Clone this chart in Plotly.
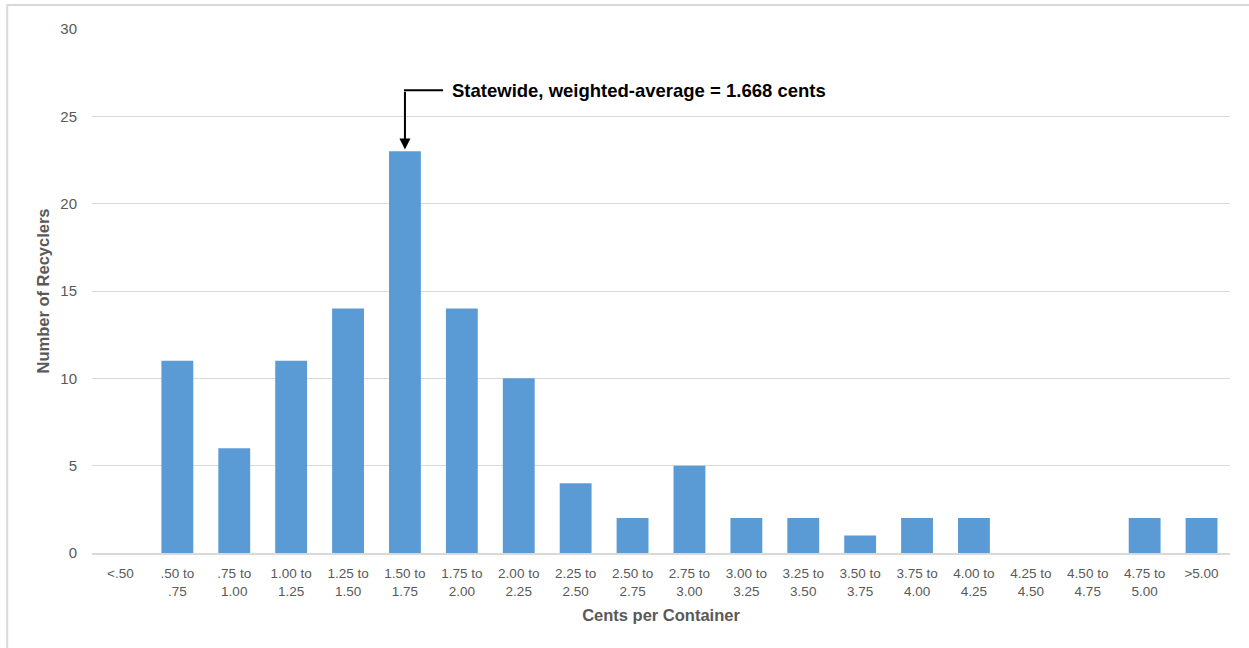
import plotly.graph_objects as go

# Price ranges (cents per container) and recycler counts
categories = ["<.50", ".50 to<br>.75", ".75 to<br>1.00", "1.00 to<br>1.25", "1.25 to<br>1.50",
              "1.50 to<br>1.75", "1.75 to<br>2.00", "2.00 to<br>2.25", "2.25 to<br>2.50",
              "2.50 to<br>2.75", "2.75 to<br>3.00", "3.00 to<br>3.25", "3.25 to<br>3.50",
              "3.50 to<br>3.75", "3.75 to<br>4.00", "4.00 to<br>4.25", "4.25 to<br>4.50",
              "4.50 to<br>4.75", "4.75 to<br>5.00", ">5.00"]
recyclers = [0, 11, 6, 11, 14, 23, 14, 10, 4, 2, 5, 2, 2, 1, 2, 2, 0, 0, 2, 2]

avg_label = "Statewide, weighted-average = 1.668 cents"
avg_bin = 5  # index of the 1.50 to 1.75 range

y_ticks = [0, 5, 10, 15, 20, 25, 30]

FONT = "Liberation Sans, Arial, sans-serif"
GREY = "#595959"

x_idx = list(range(len(categories)))

fig = go.Figure()
fig.add_trace(go.Bar(
    x=x_idx, y=recyclers,
    marker=dict(color="#5B9BD5", line=dict(width=0)),
    width=0.56,
    hoverinfo="y",
))

# Arrow pointing at the bin containing the weighted average
fig.add_annotation(
    x=avg_bin, y=23.1, ax=avg_bin, ay=26.5,
    xref="x", yref="y", axref="x", ayref="y",
    text="", showarrow=True, arrowhead=2, arrowsize=1.1, arrowwidth=2, arrowcolor="black",
)
fig.add_shape(type="line", xref="x", yref="y",
              x0=avg_bin - 0.018, x1=avg_bin + 0.67, y0=26.5, y1=26.5,
              line=dict(color="black", width=2))
fig.add_annotation(
    x=avg_bin + 0.8, y=26.5, xref="x", yref="y",
    text="<b>" + avg_label + "</b>", showarrow=False,
    xanchor="left", yanchor="middle",
    font=dict(family=FONT, size=18.5, color="black"),
)

# Outer chart frame
fig.add_shape(type="rect", xref="paper", yref="paper",
              x0=-0.0745, x1=1.2, y0=-0.3, y1=1.0458,
              line=dict(color="#d9d9d9", width=2), fillcolor="rgba(0,0,0,0)", layer="below")

fig.update_layout(
    width=1249, height=648,
    margin=dict(l=92, r=19, t=29, b=95),
    paper_bgcolor="white", plot_bgcolor="white",
    showlegend=False,
    font=dict(family=FONT, color=GREY),
    xaxis=dict(
        tickmode="array", tickvals=x_idx, ticktext=categories,
        range=[-0.5, len(categories) - 0.5],
        showgrid=False, zeroline=False,
        showline=True, linecolor="#d9d9d9", linewidth=1.5,
        ticks="", ticklabelstandoff=7, tickfont=dict(size=13.5, color=GREY),
        title=dict(text="<b>Cents per Container</b>", font=dict(size=16.5, color=GREY), standoff=12),
    ),
    yaxis=dict(
        range=[0, 30], tickvals=y_ticks,
        showgrid=True, gridcolor="#d9d9d9", gridwidth=1.3,
        zeroline=False, showline=False,
        ticks="", ticklabelstandoff=14, tickfont=dict(size=15, color=GREY),
        title=dict(text="<b>Number of Recyclers</b>", font=dict(size=16.5, color=GREY), standoff=6),
    ),
)

fig.write_html("out.html")
